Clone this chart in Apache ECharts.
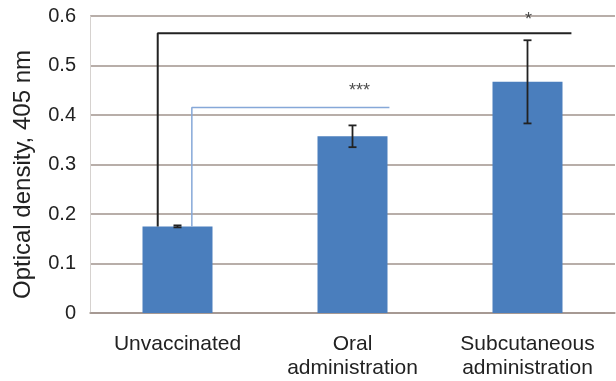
<!DOCTYPE html>
<html><head><meta charset="utf-8">
<script src="https://cdn.jsdelivr.net/npm/echarts@6/dist/echarts.min.js"></script>
<style>html,body{margin:0;padding:0;background:#fff}#c{width:616px;height:381px}</style>
</head><body><div id="c"></div>
<script>
var categories = ['Unvaccinated', 'Oral\nadministration', 'Subcutaneous\nadministration'];
var means = [0.175, 0.357, 0.467];
var errors = [0.002, 0.022, 0.084];
var yTicks = [0, 0.1, 0.2, 0.3, 0.4, 0.5, 0.6];
// significance brackets in category-index units (x) and optical density (y)
var bracketAll = [[-0.113, 0.175], [-0.113, 0.565], [2.251, 0.565]];
var bracketOral = [[0.082, 0.175], [0.082, 0.415], [1.211, 0.415]];
var sigMarks = [[1.04, 0.449, '***'], [2.006, 0.591, '*']];

var chart = echarts.init(document.getElementById('c'));
var font = 'Liberation Sans, Arial, sans-serif';
chart.setOption({
  animation: false,
  backgroundColor: '#fff',
  grid: {left: 90, right: 1, top: 16, bottom: 68},
  xAxis: [{
    type: 'category', data: categories,
    axisLine: {lineStyle: {color: '#a0938c', width: 1.5}},
    axisTick: {show: false},
    axisLabel: {color: '#222', fontFamily: font, fontSize: 21, margin: 19, lineHeight: 24, verticalAlign: 'top'}
  }, {
    type: 'value', min: -0.5, max: 2.5, show: false
  }],
  yAxis: {
    type: 'value', min: 0, max: 0.6, interval: 0.1,
    name: 'Optical density, 405 nm', nameLocation: 'middle', nameGap: 55,
    nameTextStyle: {color: '#222', fontFamily: font, fontSize: 24, padding: [0, 20, 0, 0]},
    axisLine: {show: true, onZero: false, lineStyle: {color: '#d6d2cf'}},
    axisTick: {show: false},
    axisLabel: {color: '#222', fontFamily: font, fontSize: 20, margin: 14,
      formatter: function (v) { var t = yTicks.find(function(k){return Math.abs(k-v)<1e-9;}); return t === 0 ? '0' : String(t); }},
    splitLine: {lineStyle: {color: '#a0938c', width: 1.5}}
  },
  series: [{
    type: 'bar', data: means, barWidth: '40%',
    itemStyle: {color: '#4a7ebd'}, z: 2
  }, {
    type: 'custom', z: 5,
    data: means.map(function (m, i) { return [i, m - errors[i], m + errors[i]]; }),
    renderItem: function (params, api) {
      var lo = api.coord([api.value(0), api.value(1)]);
      var hi = api.coord([api.value(0), api.value(2)]);
      var w = 4;
      var st = {stroke: '#222', lineWidth: 1.8};
      return {type: 'group', children: [
        {type: 'line', shape: {x1: lo[0], y1: lo[1], x2: hi[0], y2: hi[1]}, style: st},
        {type: 'line', shape: {x1: lo[0]-w, y1: lo[1], x2: lo[0]+w, y2: lo[1]}, style: st},
        {type: 'line', shape: {x1: hi[0]-w, y1: hi[1], x2: hi[0]+w, y2: hi[1]}, style: st}
      ]};
    }
  }, {
    type: 'line', xAxisIndex: 1, data: bracketAll, symbol: 'none', z: 4,
    lineStyle: {color: '#222', width: 2}
  }, {
    type: 'line', xAxisIndex: 1, data: bracketOral, symbol: 'none', z: 4,
    lineStyle: {color: '#86a8d8', width: 1.5}
  }, {
    type: 'scatter', xAxisIndex: 1, symbolSize: 0, z: 6,
    data: sigMarks.map(function (s) { return {value: [s[0], s[1]], label: {formatter: s[2]}}; }),
    label: {show: true, position: 'inside', color: '#222', fontFamily: font, fontSize: 18}
  }]
});
</script></body></html>
